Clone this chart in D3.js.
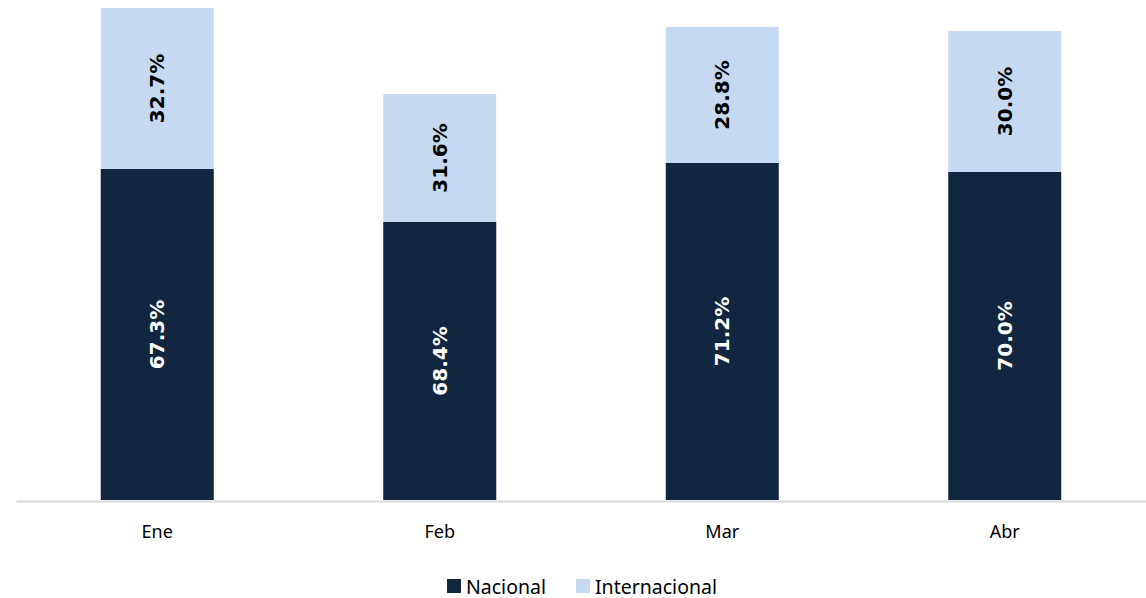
<!DOCTYPE html>
<html><head><meta charset="utf-8">
<script src="https://cdn.jsdelivr.net/npm/d3@7"></script>
<style>body{margin:0;background:#fff}svg{display:block}</style>
</head><body><svg id="c" width="1146" height="598"></svg>
<script>
const categories = ["Ene", "Feb", "Mar", "Abr"];
const nacional = [331, 278, 337, 328];
const internacional = [161, 128, 136, 141];
const nacionalPct = ["67.3%", "68.4%", "71.2%", "70.0%"];
const internacionalPct = ["32.7%", "31.6%", "28.8%", "30.0%"];
const seriesNames = ["Nacional", "Internacional"];
const colors = ["#13263F", "#C6D9F0"];

const svg = d3.select("#c");
const x = d3.scaleBand().domain(categories).range([16, 1146]).paddingInner(0.6).paddingOuter(0.3);
const totals = categories.map((c, i) => nacional[i] + internacional[i]);
const y = d3.scaleLinear().domain([0, d3.max(totals)]).range([500, 8]);

const data = categories.map((c, i) => ({cat: c, Nacional: nacional[i], Internacional: internacional[i]}));
const stack = d3.stack().keys(seriesNames)(data);
const pcts = [nacionalPct, internacionalPct];
const labelColors = ["#ffffff", "#000000"];

stack.forEach((s, si) => {
  const g = svg.append("g");
  g.selectAll("rect").data(s).join("rect")
    .attr("x", d => x(d.data.cat))
    .attr("width", x.bandwidth())
    .attr("y", d => y(d[1]))
    .attr("height", d => y(d[0]) - y(d[1]))
    .attr("fill", colors[si]);
  g.selectAll("text").data(s).join("text")
    .attr("transform", d => `translate(${x(d.data.cat) + x.bandwidth()/2},${(y(d[0]) + y(d[1]))/2}) rotate(-90)`)
    .attr("text-anchor", "middle")
    .attr("dominant-baseline", "central")
    .attr("font-family", "'DejaVu Sans', sans-serif")
    .attr("font-weight", "bold")
    .attr("font-size", 20)
    .attr("fill", labelColors[si])
    .text((d, i) => pcts[si][i]);
});

const xAxis = svg.append("g").attr("transform", "translate(0,501)")
  .call(d3.axisBottom(x).tickSize(0).tickPadding(24));
xAxis.select(".domain").attr("stroke", "#D9D9D9").attr("stroke-width", 2);
xAxis.selectAll("text").attr("font-family", "'Noto Sans', sans-serif").attr("font-size", 18).attr("fill", "#000");

const legend = svg.append("g").attr("transform", "translate(447,586)");
const items = [{name: seriesNames[0], x: 0}, {name: seriesNames[1], x: 129}];
items.forEach((it, i) => {
  legend.append("rect").attr("x", it.x).attr("y", -7).attr("width", 14).attr("height", 14).attr("fill", colors[i]);
  legend.append("text").attr("x", it.x + 19).attr("y", 0).attr("dominant-baseline", "central")
    .attr("font-family", "'Noto Sans', sans-serif").attr("font-size", 19.5).attr("fill", "#000").text(it.name);
});
</script></body></html>
